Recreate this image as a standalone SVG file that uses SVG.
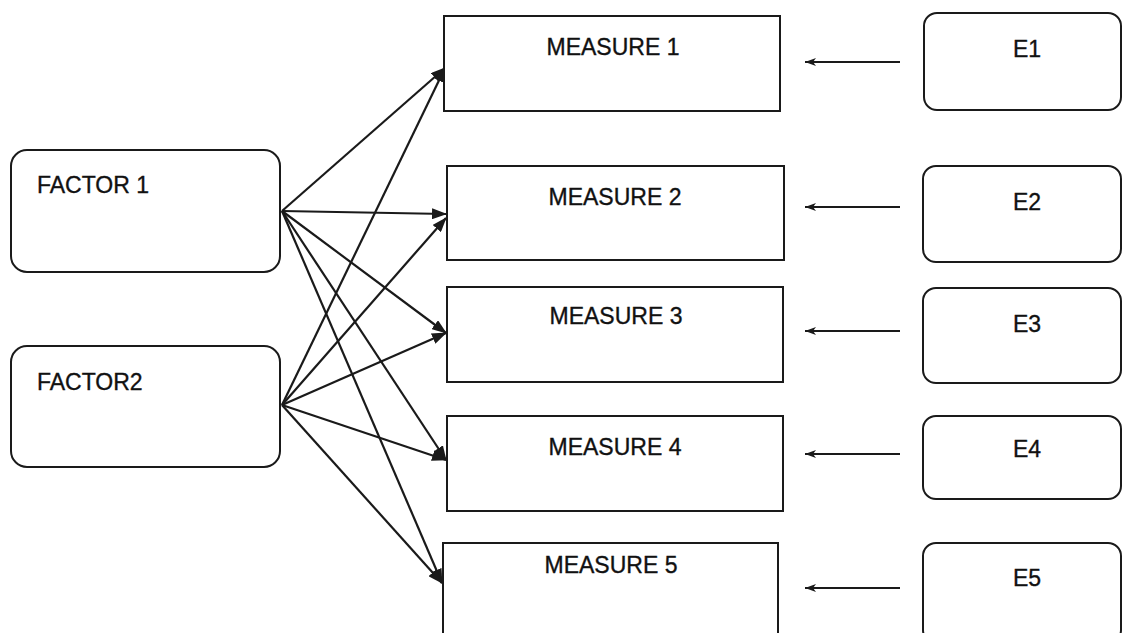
<svg xmlns="http://www.w3.org/2000/svg" width="1122" height="633" viewBox="0 0 1122 633">
<defs>
<style>
.box{fill:#fff;stroke:#1a1a1a;stroke-width:2}
.lbl{font-family:"Liberation Sans",Arial,sans-serif;font-size:23px;fill:#111;stroke:#111;stroke-width:0.35}
.c{stroke:#1a1a1a;stroke-width:2.2;fill:none}
.e{stroke:#1a1a1a;stroke-width:1.8;fill:none}
</style>
<marker id="ah" viewBox="0 0 15 11" refX="14" refY="5.5" markerWidth="15" markerHeight="11" markerUnits="userSpaceOnUse" orient="auto">
<path d="M0,0 L15,5.5 L0,11 Z" fill="#1a1a1a"/>
</marker>
<marker id="as" viewBox="0 0 11 8" refX="11" refY="4" markerWidth="11" markerHeight="8" markerUnits="userSpaceOnUse" orient="auto">
<path d="M0,0 L11,4 L0,8 L3,4 Z" fill="#1a1a1a"/>
</marker>
</defs>
<rect width="1122" height="633" fill="#fff"/>
<g id="connectors">
<line class="c" x1="282" y1="211" x2="445" y2="68" marker-end="url(#ah)"/>
<line class="c" x1="282" y1="211" x2="446" y2="214" marker-end="url(#ah)"/>
<line class="c" x1="282" y1="211" x2="446" y2="333" marker-end="url(#ah)"/>
<line class="c" x1="282" y1="211" x2="446" y2="460" marker-end="url(#ah)"/>
<line class="c" x1="282" y1="211" x2="442" y2="583" marker-end="url(#ah)"/>
<line class="c" x1="282" y1="405" x2="445" y2="68" marker-end="url(#ah)"/>
<line class="c" x1="282" y1="405" x2="446" y2="218" marker-end="url(#ah)"/>
<line class="c" x1="282" y1="405" x2="446" y2="333" marker-end="url(#ah)"/>
<line class="c" x1="282" y1="405" x2="446" y2="460" marker-end="url(#ah)"/>
<line class="c" x1="282" y1="405" x2="442" y2="583" marker-end="url(#ah)"/>
<line class="e" x1="900" y1="62" x2="805" y2="62" marker-end="url(#as)"/>
<line class="e" x1="900" y1="207" x2="805" y2="207" marker-end="url(#as)"/>
<line class="e" x1="900" y1="331" x2="805" y2="331" marker-end="url(#as)"/>
<line class="e" x1="900" y1="454" x2="805" y2="454" marker-end="url(#as)"/>
<line class="e" x1="900" y1="588" x2="805" y2="588" marker-end="url(#as)"/>
</g>
<g id="factor1"><rect class="box" x="11" y="150" width="269" height="122" rx="16"/><text class="lbl" x="37" y="193">FACTOR 1</text></g>
<g id="factor2"><rect class="box" x="11" y="346" width="269" height="121" rx="16"/><text class="lbl" x="37" y="390">FACTOR2</text></g>
<g id="measure1"><rect class="box" x="444" y="16" width="336" height="95"/><text class="lbl" x="613" y="55" text-anchor="middle">MEASURE 1</text></g>
<g id="measure2"><rect class="box" x="447" y="166" width="337" height="94"/><text class="lbl" x="615" y="205" text-anchor="middle">MEASURE 2</text></g>
<g id="measure3"><rect class="box" x="447" y="287" width="336" height="95"/><text class="lbl" x="616" y="324" text-anchor="middle">MEASURE 3</text></g>
<g id="measure4"><rect class="box" x="447" y="416" width="336" height="95"/><text class="lbl" x="615" y="455" text-anchor="middle">MEASURE 4</text></g>
<g id="measure5"><rect class="box" x="443" y="543" width="335" height="100"/><text class="lbl" x="611" y="573" text-anchor="middle">MEASURE 5</text></g>
<g id="e1"><rect class="box" x="924" y="13" width="197" height="97" rx="13"/><text class="lbl" x="1027" y="57" text-anchor="middle">E1</text></g>
<g id="e2"><rect class="box" x="923" y="166" width="198" height="96" rx="13"/><text class="lbl" x="1027" y="210" text-anchor="middle">E2</text></g>
<g id="e3"><rect class="box" x="923" y="288" width="198" height="95" rx="13"/><text class="lbl" x="1027" y="332" text-anchor="middle">E3</text></g>
<g id="e4"><rect class="box" x="923" y="416" width="198" height="83" rx="13"/><text class="lbl" x="1027" y="457" text-anchor="middle">E4</text></g>
<g id="e5"><rect class="box" x="923" y="543" width="198" height="100" rx="13"/><text class="lbl" x="1027" y="586" text-anchor="middle">E5</text></g>
</svg>
